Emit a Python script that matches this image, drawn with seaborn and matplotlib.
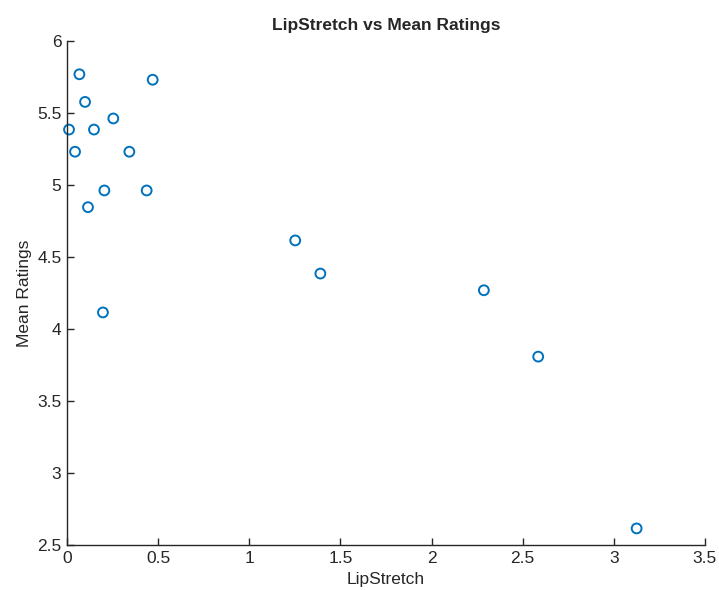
import numpy as np
import pandas as pd
import seaborn as sns
import matplotlib.pyplot as plt

# LipStretch values vs mean ratings
lip_stretch = [0.011, 0.068, 0.099, 0.044, 0.148, 0.254, 0.342, 0.470, 0.205,
               0.437, 0.115, 1.252, 1.390, 2.287, 0.197, 2.585, 3.125]
mean_ratings = [5.385, 5.769, 5.577, 5.231, 5.385, 5.462, 5.231, 5.731, 4.962,
                4.962, 4.846, 4.615, 4.385, 4.269, 4.115, 3.808, 2.615]
x_ticks = ["0", "0.5", "1", "1.5", "2", "2.5", "3", "3.5"]
y_ticks = ["2.5", "3", "3.5", "4", "4.5", "5", "5.5", "6"]

df = pd.DataFrame({"LipStretch": lip_stretch, "Mean Ratings": mean_ratings})

sns.set_style("white")
plt.rcParams['font.family'] = ['Liberation Sans', 'DejaVu Sans']

fig = plt.figure(figsize=(7.19, 5.9), dpi=100)
ax = fig.add_axes([0.0932, 0.0763, 0.8873, 0.8542])

sns.scatterplot(data=df, x="LipStretch", y="Mean Ratings", ax=ax,
                marker="o", s=50, facecolor="none", edgecolor="#0072BD",
                linewidth=1.4, clip_on=False)

ax.set_xlim(0, 3.5)
ax.set_ylim(2.5, 6)
ax.set_xticks(np.arange(0, 3.51, 0.5))
ax.set_yticks(np.arange(2.5, 6.01, 0.5))
ax.set_xticklabels(x_ticks)
ax.set_yticklabels(y_ticks)

ax.tick_params(direction="in", length=5, width=1, colors="#262626",
               labelsize=12.5, bottom=True, left=True, pad=4)
for side in ["top", "right"]:
    ax.spines[side].set_visible(False)
for side in ["left", "bottom"]:
    ax.spines[side].set_color("#262626")
    ax.spines[side].set_linewidth(1)

ax.set_xlabel("LipStretch", fontsize=12.5, color="#262626", labelpad=5)
ax.set_ylabel("Mean Ratings", fontsize=12.5, color="#262626", labelpad=4)
ax.set_title("LipStretch vs Mean Ratings", fontsize=12.5, fontweight="bold", pad=8)

fig.savefig("out.png", dpi=100)
